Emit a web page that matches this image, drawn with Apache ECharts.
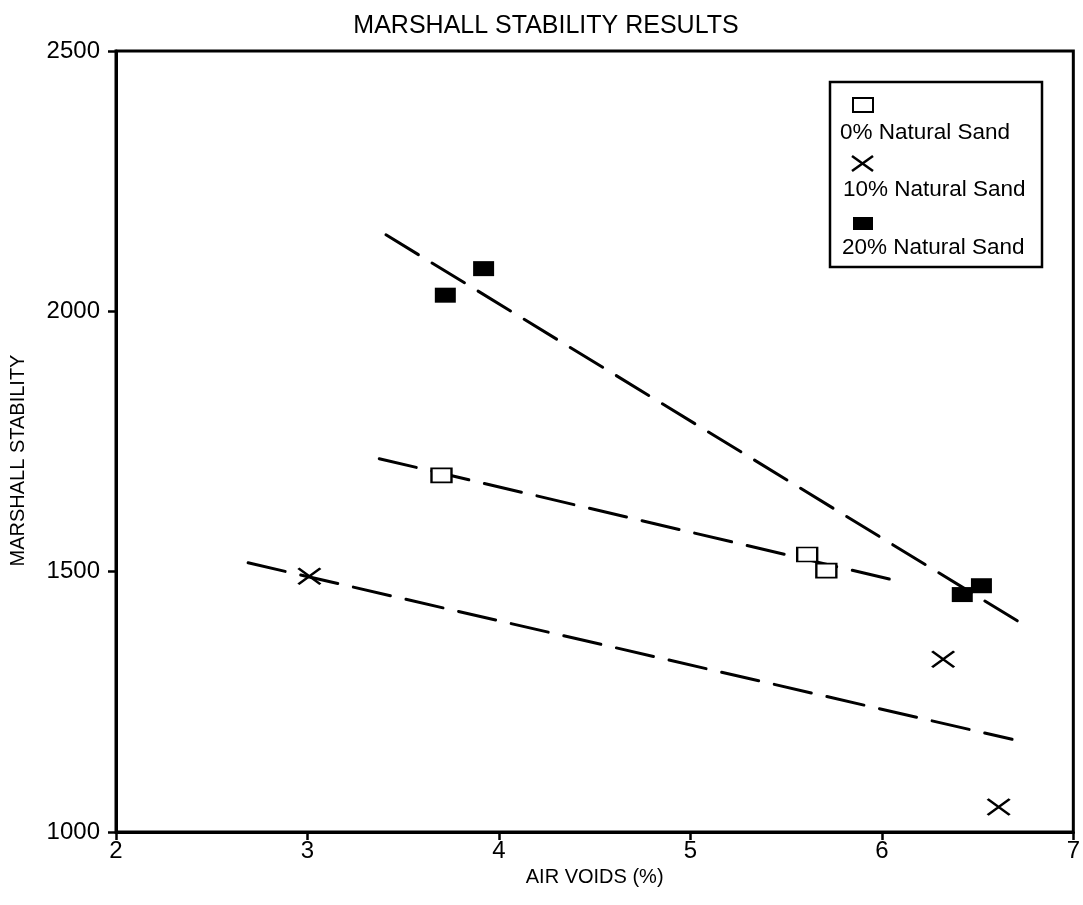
<!DOCTYPE html>
<html>
<head>
<meta charset="utf-8">
<script src="https://cdn.jsdelivr.net/npm/echarts@6/dist/echarts.min.js"></script>
<style>html,body{margin:0;padding:0;background:#fff}#c{width:1083px;height:905px}</style>
</head>
<body>
<div id="c"></div>
<script>
// ---- data ----
var xTicks = [2, 3, 4, 5, 6, 7];
var yTicks = [1000, 1500, 2000, 2500];
var seriesNames = ['0% Natural Sand', '10% Natural Sand', '20% Natural Sand'];
var sand0 = [[3.7, 1685], [5.61, 1533], [5.71, 1502]];
var sand10 = [[3.01, 1491], [6.32, 1332], [6.61, 1048]];
var sand20 = [[3.72, 2031], [3.92, 2082], [6.42, 1456], [6.52, 1473]];
var trend0 = [[3.375, 1717], [6.06, 1484]];
var trend10 = [[2.69, 1517], [6.68, 1178]];
var trend20 = [[3.41, 2147], [6.71, 1405]];

var FONT = 'Liberation Sans';
var chart = echarts.init(document.getElementById('c'), null, {renderer: 'canvas'});
var dash = {color: '#000', width: 3, type: [38, 16], cap: 'round'};
var xPath = 'path://M0,0L22,16M22,0L0,16';
var legendFont = '22.5px "' + FONT + '"';

var option = {
  backgroundColor: '#fff',
  animation: false,
  title: {
    text: 'MARSHALL STABILITY RESULTS',
    left: 541, top: 9, textAlign: 'center',
    textStyle: {fontFamily: FONT, fontSize: 25, fontWeight: 'normal', color: '#000'}
  },
  grid: {left: 116, right: 6, top: 51, bottom: 73, show: true, borderColor: '#000', borderWidth: 3, backgroundColor: 'transparent'},
  xAxis: {
    type: 'value', min: xTicks[0], max: xTicks[xTicks.length - 1], interval: 1,
    name: 'AIR VOIDS (%)', nameLocation: 'middle', nameGap: 33,
    nameTextStyle: {fontFamily: FONT, fontSize: 20, color: '#000'},
    axisLine: {show: true, lineStyle: {color: '#000', width: 3}},
    axisTick: {show: true, length: 8, lineStyle: {color: '#000', width: 2.5}},
    axisLabel: {fontFamily: FONT, fontSize: 24, color: '#000', margin: 7},
    splitLine: {show: false}
  },
  yAxis: {
    type: 'value', min: yTicks[0], max: yTicks[yTicks.length - 1], interval: 500,
    name: 'MARSHALL STABILITY', nameLocation: 'middle', nameGap: 88,
    nameTextStyle: {fontFamily: FONT, fontSize: 20, color: '#000', padding: [0, 38, 0, 0]},
    axisLine: {show: true, lineStyle: {color: '#000', width: 3}},
    axisTick: {show: true, length: 8, lineStyle: {color: '#000', width: 2.5}},
    axisLabel: {fontFamily: FONT, fontSize: 24, color: '#000', margin: 16, formatter: function (v) { return String(v); }},
    splitLine: {show: false}
  },
  series: [
    {type: 'line', data: trend20, symbol: 'none', lineStyle: dash, z: 1, silent: true},
    {type: 'line', data: trend0, symbol: 'none', lineStyle: dash, z: 1, silent: true},
    {type: 'line', data: trend10, symbol: 'none', lineStyle: dash, z: 1, silent: true},
    {name: seriesNames[0], type: 'scatter', data: sand0, symbol: 'rect', symbolSize: [20, 14],
     itemStyle: {color: '#fff', borderColor: '#000', borderWidth: 2, opacity: 1}, z: 3},
    {name: seriesNames[1], type: 'scatter', data: sand10, symbol: xPath, symbolSize: [22, 16],
     itemStyle: {color: 'none', borderColor: '#000', borderWidth: 2.5, opacity: 1}, z: 3},
    {name: seriesNames[2], type: 'scatter', data: sand20, symbol: 'rect', symbolSize: [21, 15],
     itemStyle: {color: '#000', borderColor: '#000', borderWidth: 0, opacity: 1}, z: 3}
  ],
  graphic: [
    {type: 'rect', shape: {x: 830, y: 82, width: 212, height: 185}, style: {fill: '#fff', stroke: '#000', lineWidth: 2.5}, z: 10},
    {type: 'rect', shape: {x: 853, y: 98, width: 20, height: 14}, style: {fill: '#fff', stroke: '#000', lineWidth: 2}, z: 11},
    {type: 'text', x: 840, y: 133, style: {text: seriesNames[0], font: legendFont, fill: '#000', textVerticalAlign: 'middle', verticalAlign: 'middle'}, z: 11},
    {type: 'line', shape: {x1: 852, y1: 156, x2: 873, y2: 171}, style: {stroke: '#000', lineWidth: 2.5}, z: 11},
    {type: 'line', shape: {x1: 873, y1: 156, x2: 852, y2: 171}, style: {stroke: '#000', lineWidth: 2.5}, z: 11},
    {type: 'text', x: 843, y: 190, style: {text: seriesNames[1], font: legendFont, fill: '#000', textVerticalAlign: 'middle', verticalAlign: 'middle'}, z: 11},
    {type: 'rect', shape: {x: 853, y: 217, width: 20, height: 13}, style: {fill: '#000', stroke: '#000', lineWidth: 0}, z: 11},
    {type: 'text', x: 842, y: 248, style: {text: seriesNames[2], font: legendFont, fill: '#000', textVerticalAlign: 'middle', verticalAlign: 'middle'}, z: 11}
  ]
};
chart.setOption(option);
</script>
</body>
</html>
